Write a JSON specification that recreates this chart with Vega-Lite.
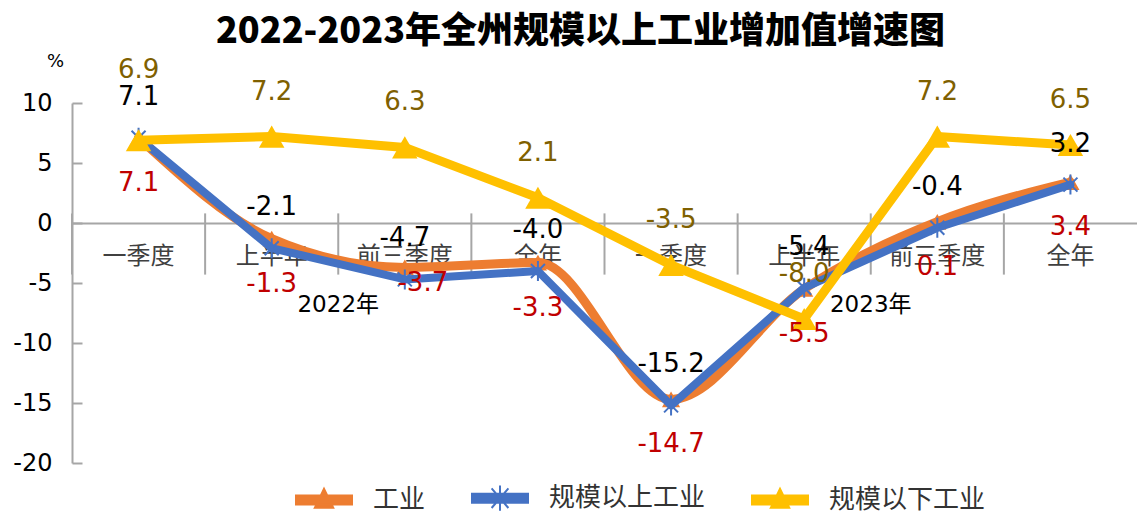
{
  "$schema": "https://vega.github.io/schema/vega-lite/v6.json",
  "width": 1065,
  "height": 360,
  "autosize": {"type": "none"},
  "padding": {"left": 72, "top": 103, "right": 0, "bottom": 50},
  "background": "white",
  "title": {
    "text": "2022-2023年全州规模以上工业增加值增速图",
    "font": "Noto Sans CJK SC",
    "fontSize": 36,
    "fontWeight": 900,
    "color": "#000000",
    "anchor": "middle",
    "dx": -24,
    "offset": 1
  },
  "config": {
    "view": {"stroke": null},
    "font": "DejaVu Sans, Noto Sans CJK SC",
    "locale": {
      "number": {
        "decimal": ".",
        "thousands": ",",
        "grouping": [3],
        "currency": ["", ""],
        "minus": "-"
      }
    }
  },
  "datasets": {
    "main": [
      {"cat": "2022一季度", "series": "工业", "value": 7.1},
      {"cat": "2022上半年", "series": "工业", "value": -1.3},
      {"cat": "2022前三季度", "series": "工业", "value": -3.7},
      {"cat": "2022全年", "series": "工业", "value": -3.3},
      {"cat": "2023一季度", "series": "工业", "value": -14.7},
      {"cat": "2023上半年", "series": "工业", "value": -5.5},
      {"cat": "2023前三季度", "series": "工业", "value": 0.1},
      {"cat": "2023全年", "series": "工业", "value": 3.4},
      {"cat": "2022一季度", "series": "规模以上工业", "value": 7.1},
      {"cat": "2022上半年", "series": "规模以上工业", "value": -2.1},
      {"cat": "2022前三季度", "series": "规模以上工业", "value": -4.7},
      {"cat": "2022全年", "series": "规模以上工业", "value": -4.0},
      {"cat": "2023一季度", "series": "规模以上工业", "value": -15.2},
      {"cat": "2023上半年", "series": "规模以上工业", "value": -5.4},
      {"cat": "2023前三季度", "series": "规模以上工业", "value": -0.4},
      {"cat": "2023全年", "series": "规模以上工业", "value": 3.2},
      {"cat": "2022一季度", "series": "规模以下工业", "value": 6.9},
      {"cat": "2022上半年", "series": "规模以下工业", "value": 7.2},
      {"cat": "2022前三季度", "series": "规模以下工业", "value": 6.3},
      {"cat": "2022全年", "series": "规模以下工业", "value": 2.1},
      {"cat": "2023一季度", "series": "规模以下工业", "value": -3.5},
      {"cat": "2023上半年", "series": "规模以下工业", "value": -8.0},
      {"cat": "2023前三季度", "series": "规模以下工业", "value": 7.2},
      {"cat": "2023全年", "series": "规模以下工业", "value": 6.5}
    ]
  },
  "data": {"name": "main"},
  "encoding": {
    "x": {
      "field": "cat",
      "type": "nominal",
      "sort": null,
      "scale": {
        "type": "band",
        "paddingInner": 0,
        "paddingOuter": 0,
        "domain": ["2022一季度", "2022上半年", "2022前三季度", "2022全年", "2023一季度", "2023上半年", "2023前三季度", "2023全年"]
      },
      "axis": {
        "title": null,
        "orient": "bottom",
        "offset": -240,
        "domainColor": "#A6A6A6",
        "domainWidth": 2,
        "ticks": false,
        "grid": false,
        "labelExpr": "substring(datum.label, 4)",
        "labelFont": "Noto Sans CJK SC",
        "labelFontSize": 24,
        "labelColor": "#404040",
        "labelPadding": 21,
        "labelAngle": 0,
        "labelBaseline": "top",
        "labelOverlap": false,
        "labelLimit": 0
      }
    },
    "y": {
      "field": "value",
      "type": "quantitative",
      "scale": {"domain": [-20, 10], "nice": false, "zero": false},
      "axis": {
        "title": "%",
        "values": [-20, -15, -10, -5, 0, 5, 10],
        "domainColor": "#A6A6A6",
        "domainWidth": 2,
        "tickColor": "#A6A6A6",
        "tickWidth": 2,
        "tickSize": -10,
        "grid": false,
        "labelFont": "DejaVu Sans",
        "labelFontSize": 24,
        "labelColor": "#000000",
        "labelPadding": 30,
        "titleAngle": 0,
        "titleX": -17,
        "titleY": -42,
        "titleFont": "DejaVu Sans",
        "titleFontSize": 18,
        "titleFontWeight": "normal",
        "titleColor": "#000000",
        "titleAlign": "center",
        "titleBaseline": "middle"
      }
    }
  },
  "layer": [
    {
      "transform": [{"filter": "datum.series === '工业'"}],
      "mark": {"type": "rule", "color": "#A6A6A6", "strokeWidth": 2},
      "encoding": {
        "x": {"field": "cat", "type": "nominal", "bandPosition": 0},
        "y": {"datum": 0.8},
        "y2": {"datum": -4.3}
      }
    },
    {
      "transform": [{"filter": "datum.series === '工业'"}],
      "mark": {"type": "line", "strokeWidth": 9, "interpolate": "monotone", "strokeCap": "round", "strokeJoin": "round"},
      "encoding": {
        "color": {
          "field": "series",
          "type": "nominal",
          "scale": {"domain": ["工业", "规模以上工业", "规模以下工业"], "range": ["#ED7D31", "#4472C4", "#FFC000"]},
          "legend": {
            "orient": "none",
            "legendX": 223,
            "legendY": 366,
            "direction": "horizontal",
            "title": null,
            "symbolType": "M-1,-0.16H1V0.16H-1Z M-0.33,0.28L0,-0.4L0.33,0.28Z",
            "symbolSize": 3136,
            "symbolStrokeWidth": 2,
            "labelFont": "Noto Sans CJK SC",
            "labelFontSize": 26,
            "labelColor": "#333333",
            "labelOffset": 20,
            "columnPadding": 42,
            "labelLimit": 400,
            "encode": {
              "symbols": {
                "update": {
                  "shape": {"signal": "datum.value === '规模以上工业' ? 'M-1,-0.16H1V0.16H-1Z M-0.3,-0.35L0.3,0.35M-0.3,0.35L0.3,-0.35M0,-0.45L0,0.45' : 'M-1,-0.16H1V0.16H-1Z M-0.33,0.28L0,-0.4L0.33,0.28Z'"},
                  "fill": {"scale": "color", "field": "value"},
                  "stroke": {"scale": "color", "field": "value"},
                  "strokeWidth": {"value": 2},
                  "opacity": {"value": 1}
                }
              }
            }
          }
        }
      }
    },
    {
      "transform": [{"filter": "datum.series === '工业'"}],
      "mark": {"type": "point", "shape": "triangle-up", "size": 330, "filled": true, "opacity": 1},
      "encoding": {"color": {"field": "series", "type": "nominal"}}
    },
    {
      "transform": [{"filter": "datum.series === '规模以上工业'"}],
      "mark": {"type": "line", "strokeWidth": 8, "strokeCap": "round", "strokeJoin": "round"},
      "encoding": {"color": {"field": "series", "type": "nominal"}}
    },
    {
      "transform": [{"filter": "datum.series === '规模以上工业'"}],
      "mark": {"type": "point", "shape": "M-0.7,-0.7L0.7,0.7M-0.7,0.7L0.7,-0.7M0,-1L0,1", "size": 400, "filled": false, "strokeWidth": 2, "opacity": 1},
      "encoding": {"color": {"field": "series", "type": "nominal"}}
    },
    {
      "transform": [{"filter": "datum.series === '规模以下工业'"}],
      "mark": {"type": "line", "strokeWidth": 9, "strokeCap": "round", "strokeJoin": "round"},
      "encoding": {"color": {"field": "series", "type": "nominal"}}
    },
    {
      "transform": [{"filter": "datum.series === '规模以下工业'"}],
      "mark": {"type": "point", "shape": "triangle-up", "size": 650, "filled": true, "opacity": 1},
      "encoding": {"color": {"field": "series", "type": "nominal"}}
    },
    {
      "transform": [{"filter": "datum.series === '工业' && datum.cat !== '2022前三季度'"}],
      "mark": {"type": "text", "dy": 45, "color": "#C00000", "font": "DejaVu Sans", "fontSize": 26},
      "encoding": {"text": {"field": "value", "type": "quantitative", "format": ".1f"}}
    },
    {
      "transform": [{"filter": "datum.series === '工业' && datum.cat === '2022前三季度'"}],
      "mark": {"type": "text", "dy": 16, "dx": 18, "color": "#C00000", "font": "DejaVu Sans", "fontSize": 26},
      "encoding": {"text": {"field": "value", "type": "quantitative", "format": ".1f"}}
    },
    {
      "transform": [{"filter": "datum.series === '规模以上工业'"}],
      "mark": {"type": "text", "dy": -41, "color": "#000000", "font": "DejaVu Sans", "fontSize": 26},
      "encoding": {"text": {"field": "value", "type": "quantitative", "format": ".1f"}}
    },
    {
      "transform": [{"filter": "datum.series === '规模以下工业' && datum.cat !== '2022一季度'"}],
      "mark": {"type": "text", "dy": -45, "color": "#7F6000", "font": "DejaVu Sans", "fontSize": 26},
      "encoding": {"text": {"field": "value", "type": "quantitative", "format": ".1f"}}
    },
    {
      "transform": [{"filter": "datum.series === '规模以下工业' && datum.cat === '2022一季度'"}],
      "mark": {"type": "text", "dy": -70, "color": "#7F6000", "font": "DejaVu Sans", "fontSize": 26},
      "encoding": {"text": {"field": "value", "type": "quantitative", "format": ".1f"}}
    },
    {
      "transform": [{"filter": "datum.series === '工业' && datum.cat === '2022上半年'"}],
      "mark": {"type": "text", "color": "#000000", "font": "DejaVu Sans, Noto Sans CJK SC", "fontSize": 23},
      "encoding": {
        "x": {"field": "cat", "type": "nominal", "bandPosition": 1},
        "y": {"datum": -6.8},
        "text": {"value": "2022年"}
      }
    },
    {
      "transform": [{"filter": "datum.series === '工业' && datum.cat === '2023上半年'"}],
      "mark": {"type": "text", "color": "#000000", "font": "DejaVu Sans, Noto Sans CJK SC", "fontSize": 23},
      "encoding": {
        "x": {"field": "cat", "type": "nominal", "bandPosition": 1},
        "y": {"datum": -6.8},
        "text": {"value": "2023年"}
      }
    }
  ]
}
